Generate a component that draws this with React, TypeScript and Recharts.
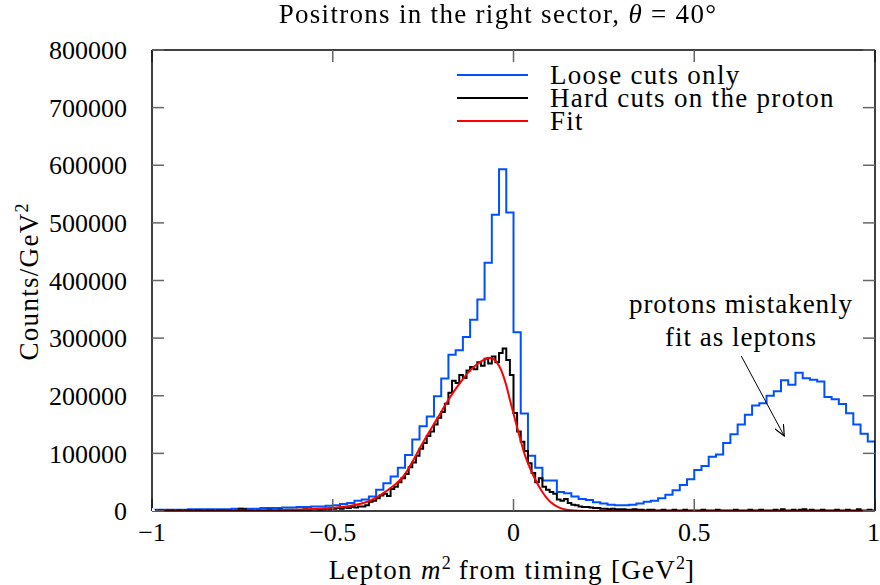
import { LineChart, Line, XAxis, YAxis, ReferenceLine } from "recharts";

// Loose cuts only: 0.02-wide bins from -1 to 1, counts in thousands
const blueCounts = [
  2, 2, 2, 2, 2, 3, 3, 3, 3, 3, 3, 4, 4, 4, 4, 5, 5, 5, 6, 6, 7, 7, 8, 8, 9,
  10, 12, 14, 18, 20, 25, 37, 48, 60, 75, 97, 124, 147, 164, 199, 230, 271, 279, 302, 332, 367, 431, 514, 593, 518,
  310, 169, 96, 75, 53, 53, 33, 31, 25, 21, 19, 15, 13, 11, 10, 10, 11, 13, 16, 18, 22, 28, 36, 45, 55,
  71, 78, 94, 98, 118, 133, 150, 167, 183, 187, 200, 208, 227, 219, 240, 230.5, 227.6, 224.7, 198, 194, 185.7, 169.5, 150, 134, 120.7,
];

// Hard cuts on the proton: 0.01-wide bins from -1 to 1, counts in thousands
const blackCounts = [
  1, 0, 1, 0, 1, 1, 0, 1, 0, 1,
  1, 0, 1, 1, 0, 1, 1, 0, 1, 1,
  1, 1, 0, 1, 4, 3, 1, 1, 0, 1,
  1, 1, 2, 1, 1, 2, 1, 2, 2, 1,
  2, 2, 3, 2, 3, 3, 2, 3, 4, 3,
  4, 5, 4, 6, 5, 7, 6, 8, 8, 10,
  16, 18, 22, 27, 30, 26, 38, 42, 50, 57,
  64, 76, 84, 96, 108, 118, 130, 138, 150, 162,
  172, 186, 205, 226, 222, 236, 231, 244, 250, 246,
  258, 252, 264, 256, 268, 258, 274, 282, 262, 236,
  170, 138, 120, 104, 83, 66, 50, 57, 42, 37,
  33, 30, 20, 18, 21, 14, 11, 10, 8, 7,
  7, 6, 5, 5, 4, 4, 3, 4, 3, 3,
  3, 2, 2, 3, 2, 2, 1, 2, 2, 1,
  1, 2, 1, 1, 2, 1, 1, 2, 1, 1,
  1, 1, 2, 1, 1, 1, 2, 1, 1, 1,
  1, 2, 1, 1, 1, 2, 1, 1, 2, 1,
  1, 1, 2, 1, 3, 1, 1, 2, 1, 2,
  3, 1, 2, 1, 1, 2, 1, 1, 1, 2,
  1, 1, 2, 1, 1, 3, 1, 1, 2, 1,
];

// Fit curve (thousands)
const fitX = [
  -1, -0.9, -0.8, -0.7, -0.6, -0.55, -0.5, -0.45, -0.42, -0.4, -0.38, -0.36, -0.34, -0.32, -0.3,
  -0.28, -0.26, -0.24, -0.22, -0.2, -0.18, -0.16, -0.14, -0.12, -0.1, -0.08, -0.07, -0.06, -0.05,
  -0.04, -0.03, -0.02, -0.01, 0, 0.01, 0.02, 0.03, 0.04, 0.05, 0.06, 0.07, 0.08, 0.09, 0.1, 0.11,
  0.12, 0.13, 0.14, 0.16, 0.18, 0.2, 0.3, 0.5, 0.75, 1,
];
const fitY = [
  0, 0.2, 0.5, 1, 2, 3.5, 5.5, 9, 13, 17, 23, 31, 40, 50, 64,
  85, 108, 130, 151, 172, 193, 212, 229, 244, 255, 263, 266, 265, 261,
  252, 238, 218, 193, 169, 145, 122, 100, 83, 68, 55, 43, 33, 24, 17, 12,
  8, 5, 3, 1.2, 0.5, 0.2, 0, 0, 0, 0,
];

const xTicks = [-1, -0.5, 0, 0.5, 1];
const yTicks = [0, 100000, 200000, 300000, 400000, 500000, 600000, 700000, 800000];

const seriesNames = ["Loose cuts only", "Hard cuts on the proton", "Fit"];
const seriesColors = ["#0050ff", "#000000", "#ff0000"];

const FONT = "'Liberation Serif', 'Times New Roman', serif";

const toHist = (counts: number[], start: number, width: number) => {
  const pts = counts.map((c, i) => ({ x: start + i * width, y: c * 1000 }));
  pts.push({ x: 1, y: counts[counts.length - 1] * 1000 });
  return pts;
};

const blueData = [...toHist(blueCounts, -1, 0.02), { x: 1, y: 0 }];
const blackData = toHist(blackCounts, -1, 0.01);
const fitData = fitX.map((x, i) => ({ x, y: fitY[i] * 1000 }));

const fmtX = (v: number) => (v < 0 ? "\u2212" + Math.abs(v) : String(v));

export default function App() {
  const text = {
    position: "absolute" as const,
    fontFamily: FONT,
    fontSize: 27,
    letterSpacing: "1.3px",
    whiteSpace: "nowrap" as const,
    lineHeight: 1,
  };
  const sup = { fontSize: 18, letterSpacing: 0 };
  return (
    // fixed to the window so the chart fills 880x585 without creating scroll overflow
    <div style={{ position: "fixed", left: 0, top: 0, width: 880, height: 585, background: "#fff" }}>
      <svg width={0} height={0} style={{ position: "absolute" }}>
        <defs>
          <marker id="arrowHead" markerWidth={12} markerHeight={10} refX={11} refY={5} orient="auto" markerUnits="userSpaceOnUse">
            <path d="M0,0 L11,5 L0,10" fill="none" stroke="#000" strokeWidth={1.2} />
          </marker>
        </defs>
      </svg>
      <LineChart width={880} height={585} margin={{ top: 49, right: 4, left: 0, bottom: 14 }}>
        <XAxis
          xAxisId="bottom"
          type="number"
          dataKey="x"
          domain={[-1, 1]}
          ticks={xTicks}
          tickFormatter={fmtX}
          height={60}
          tickSize={-12}
          tickMargin={24}
          axisLine={{ stroke: "#000", strokeWidth: 1.5 }}
          tickLine={{ stroke: "#666", strokeWidth: 1.5 }}
          tick={{ fontFamily: FONT, fontSize: 26, fill: "#000" }}
          allowDataOverflow
        />
        <XAxis
          xAxisId="top"
          orientation="top"
          type="number"
          dataKey="x"
          domain={[-1, 1]}
          ticks={xTicks}
          tickFormatter={() => ""}
          height={1}
          tickSize={-12}
          tickMargin={0}
          axisLine={{ stroke: "#000", strokeWidth: 1.5 }}
          tickLine={{ stroke: "#666", strokeWidth: 1.5 }}
          allowDataOverflow
        />
        <YAxis
          yAxisId="left"
          type="number"
          domain={[0, 800000]}
          ticks={yTicks}
          width={152}
          tickSize={-12}
          tickMargin={37}
          axisLine={{ stroke: "#000", strokeWidth: 1.5 }}
          tickLine={{ stroke: "#666", strokeWidth: 1.5 }}
          tick={{ fontFamily: FONT, fontSize: 26, fill: "#000" }}
          allowDataOverflow
        />
        <YAxis
          yAxisId="right"
          orientation="right"
          type="number"
          domain={[0, 800000]}
          ticks={yTicks}
          width={1}
          tickSize={-12}
          tickMargin={0}
          tickFormatter={() => ""}
          axisLine={{ stroke: "#000", strokeWidth: 1.5 }}
          tickLine={{ stroke: "#666", strokeWidth: 1.5 }}
          allowDataOverflow
        />
        <Line
          xAxisId="bottom"
          yAxisId="left"
          data={blueData}
          dataKey="y"
          name={seriesNames[0]}
          type="stepAfter"
          stroke={seriesColors[0]}
          strokeWidth={2}
          dot={false}
          isAnimationActive={false}
        />
        <Line
          xAxisId="bottom"
          yAxisId="left"
          data={blackData}
          dataKey="y"
          name={seriesNames[1]}
          type="stepAfter"
          stroke={seriesColors[1]}
          strokeWidth={2}
          dot={false}
          isAnimationActive={false}
        />
        <Line
          xAxisId="bottom"
          yAxisId="left"
          data={fitData}
          dataKey="y"
          name={seriesNames[2]}
          type="monotone"
          stroke={seriesColors[2]}
          strokeWidth={2}
          dot={false}
          isAnimationActive={false}
        />
        <Line
          xAxisId="top"
          yAxisId="right"
          data={[{ x: -1, y: 0 }]}
          dataKey="y"
          stroke="none"
          dot={false}
          legendType="none"
          isAnimationActive={false}
        />
        <ReferenceLine
          xAxisId="bottom"
          yAxisId="left"
          segment={[{ x: 0.63, y: 269000 }, { x: 0.749, y: 130000 }]}
          stroke="#000"
          strokeWidth={1}
          markerEnd="url(#arrowHead)"
        />
      </LineChart>
      <div style={{ position: "absolute", left: 457, top: 63, fontFamily: FONT, fontSize: 27, letterSpacing: "1.3px" }}>
        {seriesNames.map((n, i) => (
          <div key={n} style={{ display: "flex", alignItems: "center", height: 23 }}>
            <span style={{ display: "inline-block", width: 71, height: 2, background: seriesColors[i] }} />
            <span style={{ marginLeft: 22, whiteSpace: "nowrap", lineHeight: "22px" }}>{n}</span>
          </div>
        ))}
      </div>
      <div style={{ ...text, left: 498, top: 1, transform: "translateX(-50%)" }}>
        Positrons in the right sector, <i>θ</i> = 40°
      </div>
      <div style={{ ...text, left: 28, top: 282, transform: "translate(-50%, -50%) rotate(-90deg)" }}>
        Counts/GeV<sup style={sup}>2</sup>
      </div>
      <div style={{ ...text, left: 512, top: 554, transform: "translateX(-50%)" }}>
        Lepton <i>m</i><sup style={sup}>2</sup> from timing [GeV<sup style={sup}>2</sup>]
      </div>
      <div style={{ ...text, left: 741, top: 288, transform: "translateX(-50%)", textAlign: "center", lineHeight: "33px", letterSpacing: "1px" }}>
        protons mistakenly
        <br />
        fit as leptons
      </div>
    </div>
  );
}
